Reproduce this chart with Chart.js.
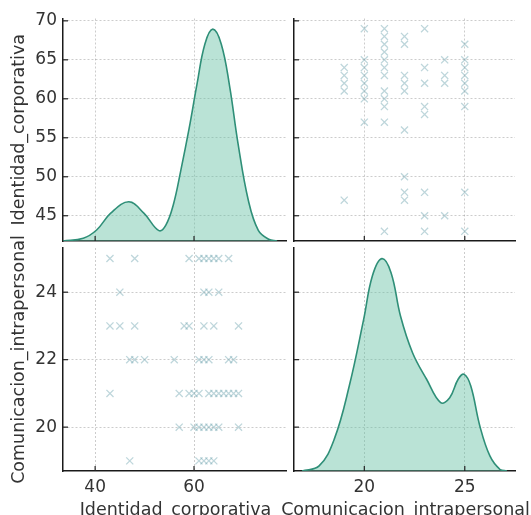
<!DOCTYPE html>
<html>
<head>
<meta charset="utf-8">
<script src="https://cdn.jsdelivr.net/npm/chart.js@4/dist/chart.umd.min.js"></script>
<style>
  body { margin: 0; background: #fff; }
  #wrap { position: relative; width: 531px; height: 515px; overflow: hidden; }
  #wrap canvas { position: absolute; left: 0; top: 0; }
</style>
</head>
<body>
<div id="wrap">
  <canvas id="tl" width="531" height="515"></canvas>
  <canvas id="tr" width="531" height="515"></canvas>
  <canvas id="bl" width="531" height="515"></canvas>
  <canvas id="br" width="531" height="515"></canvas>
</div>
<script>
// paired observations (same index = same respondent)
const identidad = [
  43, 48, 59, 61, 62, 63, 64, 65, 67,
  45, 62, 63, 65,
  43, 45, 48, 58, 59, 62, 64, 69,
  47, 48, 50, 56, 61, 62, 63, 67, 68,
  43, 57, 59, 60, 61, 63, 64, 65, 66, 67, 68, 69,
  57, 60, 61, 62, 63, 64, 65, 69,
  47, 61, 62, 63, 64
];
const comunicacion = [
  25, 25, 25, 25, 25, 25, 25, 25, 25,
  24, 24, 24, 24,
  23, 23, 23, 23, 23, 23, 23, 23,
  22, 22, 22, 22, 22, 22, 22, 22, 22,
  21, 21, 21, 21, 21, 21, 21, 21, 21, 21, 21, 21,
  20, 20, 20, 20, 20, 20, 20, 20,
  19, 19, 19, 19, 19
];

// density curves (relative to peak)
const idGrid    = [33.5, 37.6, 40.3, 43.1, 46.8, 49.9, 52.9, 54.3, 55.8, 57.3, 59.0, 60.6, 62.2, 63.8, 65.5, 67.2, 68.9, 71.0, 73.0, 75.1, 76.8];
const idDensity = [0, 0.013, 0.052, 0.13, 0.185, 0.13, 0.049, 0.075, 0.17, 0.33, 0.53, 0.74, 0.93, 1.0, 0.93, 0.73, 0.46, 0.19, 0.05, 0.008, 0];
const comGrid    = [16.9, 17.75, 18.5, 19.25, 19.97, 20.4, 20.87, 21.33, 21.8, 22.4, 23.1, 23.8, 24.25, 24.67, 24.97, 25.3, 25.75, 26.25, 26.75, 27.1];
const comDensity = [0, 0.024, 0.149, 0.40, 0.715, 0.918, 1.0, 0.934, 0.73, 0.557, 0.432, 0.322, 0.345, 0.432, 0.455, 0.40, 0.212, 0.071, 0.008, 0];

// tick labels
const idTicksY  = [45, 50, 55, 60, 65, 70];
const idTicksX  = [40, 60];
const comTicksY = [20, 22, 24];
const comTicksX = [20, 25];

const idLabel = 'Identidad_corporativa';
const comLabel = 'Comunicacion_intrapersonal';

Chart.defaults.font.family = '"DejaVu Sans", sans-serif';
Chart.defaults.color = '#333';

// short tick marks pointing into the plot, like the matplotlib original
const innerTicks = {
  id: 'innerTicks',
  afterDatasetsDraw(chart) {
    const ctx = chart.ctx, a = chart.chartArea;
    ctx.save();
    ctx.strokeStyle = '#222';
    ctx.lineWidth = 1.2;
    ['x', 'y'].forEach(function (id) {
      const s = chart.scales[id];
      s.ticks.forEach(function (t) {
        const p = s.getPixelForValue(t.value);
        ctx.beginPath();
        if (id === 'x') { ctx.moveTo(p, a.bottom); ctx.lineTo(p, a.bottom - 5); }
        else { ctx.moveTo(a.left, p); ctx.lineTo(a.left + 5, p); }
        ctx.stroke();
      });
    });
    ctx.restore();
  }
};

// outer axis titles, drawn without the width limit chart.js puts on them
const outerLabels = {
  id: 'outerLabels',
  afterDraw(chart, args, opts) {
    const ctx = chart.ctx, a = chart.chartArea;
    ctx.save();
    ctx.fillStyle = '#333';
    ctx.font = '17.5px "DejaVu Sans"';
    ctx.textAlign = 'center';
    ctx.textBaseline = 'alphabetic';
    if (opts.x) ctx.fillText(opts.x, (a.left + a.right) / 2 + 1, a.bottom + 43.5);
    if (opts.y) {
      ctx.translate(a.left - 39, (a.top + a.bottom) / 2);
      ctx.rotate(-Math.PI / 2);
      ctx.fillText(opts.y, 0, 0);
    }
    ctx.restore();
  }
};

function axis(min, max, ticks, showLabels, size, horizontal) {
  return {
    type: 'linear',
    min: min,
    max: max,
    afterBuildTicks: function (s) { s.ticks = ticks.map(function (v) { return { value: v }; }); },
    afterFit: function (s) { if (horizontal) s.height = size; else s.width = size; },
    grid: { color: 'rgba(0,0,0,0.2)', lineWidth: 1, drawTicks: false },
    border: { display: true, color: '#1a1a1a', width: 1.5, dash: [2, 2] },
    ticks: { display: showLabels, padding: 6, color: '#333', font: { size: 17 } }
  };
}

const kdeAxis = { type: 'linear', min: 0, max: 1.05, display: false, position: 'right' };

function kde(grid, dens) {
  return {
    type: 'scatter',
    showLine: true,
    data: grid.map(function (x, i) { return { x: x, y: dens[i] }; }),
    yAxisID: 'yk',
    borderColor: '#2f8f78',
    borderWidth: 1.6,
    backgroundColor: 'rgba(102,194,165,0.45)',
    fill: 'origin',
    pointRadius: 0,
    tension: 0.4
  };
}

function dots(xs, ys) {
  return {
    type: 'scatter',
    data: xs.map(function (x, i) { return { x: x, y: ys[i] }; }),
    pointStyle: 'crossRot',
    pointRadius: 5,
    borderColor: 'rgba(110,165,175,0.45)',
    backgroundColor: 'rgba(110,165,175,0.45)',
    borderWidth: 1.3
  };
}

function panel(id, datasets, scales, padding, titles) {
  return new Chart(document.getElementById(id), {
    type: 'scatter',
    data: { datasets: datasets },
    options: {
      responsive: false,
      animation: false,
      layout: { padding: padding },
      scales: scales,
      plugins: {
        legend: { display: false },
        tooltip: { enabled: false },
        outerLabels: titles
      }
    },
    plugins: [innerTicks, outerLabels]
  });
}

const idXRange = [33.5, 78.6];
const comXRange = [16.5, 27.5];
const idYRange = [41.76, 70.3];
const comYRange = [18.7, 25.31];

// top-left: Identidad density
panel('tl', [kde(idGrid, idDensity)], {
  x: axis(idXRange[0], idXRange[1], idTicksX, false, 0, true),
  y: axis(idYRange[0], idYRange[1], idTicksY, true, 63, false),
  yk: kdeAxis
}, { left: 0, top: 18.5, right: 245, bottom: 274 }, { y: idLabel });

// top-right: Comunicacion vs Identidad
panel('tr', [dots(comunicacion, identidad)], {
  x: axis(comXRange[0], comXRange[1], comTicksX, false, 0, true),
  y: axis(idYRange[0], idYRange[1], idTicksY, false, 0, false)
}, { left: 294, top: 18.5, right: 16, bottom: 274 }, {});

// bottom-left: Identidad vs Comunicacion
panel('bl', [dots(identidad, comunicacion)], {
  x: axis(idXRange[0], idXRange[1], idTicksX, true, 44, true),
  y: axis(comYRange[0], comYRange[1], comTicksY, true, 63, false)
}, { left: 0, top: 248, right: 245, bottom: 0 }, { x: idLabel, y: comLabel });

// bottom-right: Comunicacion density
panel('br', [kde(comGrid, comDensity)], {
  x: axis(comXRange[0], comXRange[1], comTicksX, true, 44, true),
  y: axis(comYRange[0], comYRange[1], comTicksY, false, 0, false),
  yk: kdeAxis
}, { left: 294, top: 248, right: 16, bottom: 0 }, { x: comLabel });
</script>
</body>
</html>
